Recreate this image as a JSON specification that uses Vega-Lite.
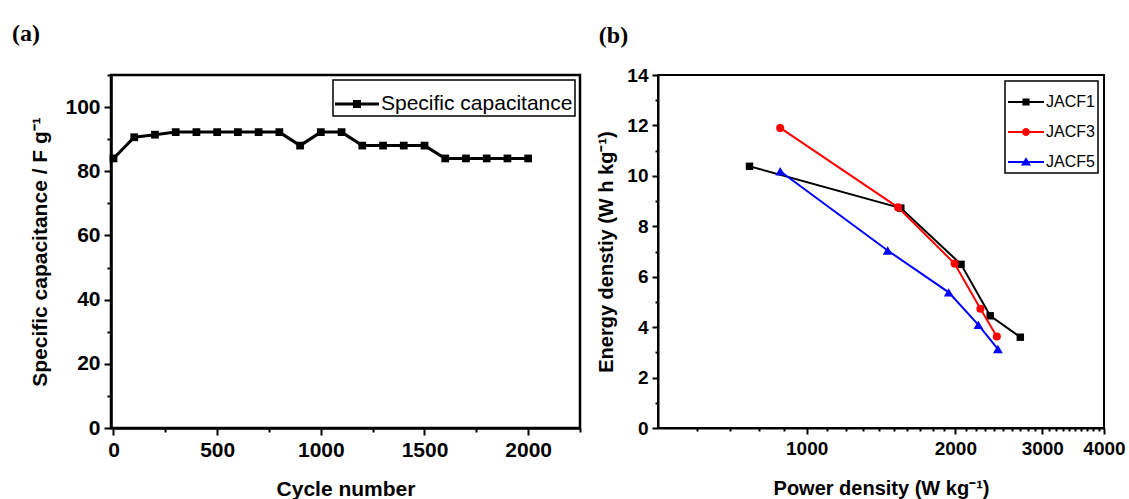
{
  "$schema": "https://vega.github.io/schema/vega-lite/v6.json",
  "background": "white",
  "padding": {"left": 10, "top": 20, "right": 5, "bottom": 0},
  "config": {
    "font": "Liberation Sans",
    "axis": {"domainColor": "black", "domainWidth": 2, "tickColor": "black", "tickWidth": 2, "labelColor": "black", "titleColor": "black", "labelFont": "Liberation Sans", "titleFont": "Liberation Sans", "labelFontWeight": "bold", "titleFontWeight": "bold", "grid": false, "labelOverlap": false, "labelFlush": false},
    "title": {"font": "Liberation Serif", "fontSize": 24, "fontWeight": "bold", "anchor": "start", "frame": "bounds", "color": "black"},
    "legend": {"strokeColor": "black", "strokeWidth": 1.5, "labelFont": "Liberation Sans", "labelColor": "black", "symbolOpacity": 1, "symbolStrokeWidth": 0, "fillColor": "white", "labelLimit": 0}
  },
  "datasets": {
    "cycling": [
      {"cycle": 0, "capacitance": 84, "series": "Specific capacitance"},
      {"cycle": 100, "capacitance": 90.6, "series": "Specific capacitance"},
      {"cycle": 200, "capacitance": 91.4, "series": "Specific capacitance"},
      {"cycle": 300, "capacitance": 92.2, "series": "Specific capacitance"},
      {"cycle": 400, "capacitance": 92.2, "series": "Specific capacitance"},
      {"cycle": 500, "capacitance": 92.2, "series": "Specific capacitance"},
      {"cycle": 600, "capacitance": 92.2, "series": "Specific capacitance"},
      {"cycle": 700, "capacitance": 92.2, "series": "Specific capacitance"},
      {"cycle": 800, "capacitance": 92.2, "series": "Specific capacitance"},
      {"cycle": 900, "capacitance": 88, "series": "Specific capacitance"},
      {"cycle": 1000, "capacitance": 92.2, "series": "Specific capacitance"},
      {"cycle": 1100, "capacitance": 92.2, "series": "Specific capacitance"},
      {"cycle": 1200, "capacitance": 88, "series": "Specific capacitance"},
      {"cycle": 1300, "capacitance": 88, "series": "Specific capacitance"},
      {"cycle": 1400, "capacitance": 88, "series": "Specific capacitance"},
      {"cycle": 1500, "capacitance": 88, "series": "Specific capacitance"},
      {"cycle": 1600, "capacitance": 84, "series": "Specific capacitance"},
      {"cycle": 1700, "capacitance": 84, "series": "Specific capacitance"},
      {"cycle": 1800, "capacitance": 84, "series": "Specific capacitance"},
      {"cycle": 1900, "capacitance": 84, "series": "Specific capacitance"},
      {"cycle": 2000, "capacitance": 84, "series": "Specific capacitance"}
    ],
    "ragone": [
      {"sample": "JACF1", "power": 766, "energy": 10.38},
      {"sample": "JACF1", "power": 1551, "energy": 8.72},
      {"sample": "JACF1", "power": 2054, "energy": 6.49},
      {"sample": "JACF1", "power": 2353, "energy": 4.45},
      {"sample": "JACF1", "power": 2708, "energy": 3.6},
      {"sample": "JACF3", "power": 884, "energy": 11.9},
      {"sample": "JACF3", "power": 1531, "energy": 8.75},
      {"sample": "JACF3", "power": 1993, "energy": 6.52},
      {"sample": "JACF3", "power": 2248, "energy": 4.73},
      {"sample": "JACF3", "power": 2427, "energy": 3.63},
      {"sample": "JACF5", "power": 884, "energy": 10.18},
      {"sample": "JACF5", "power": 1459, "energy": 7.04},
      {"sample": "JACF5", "power": 1939, "energy": 5.38},
      {"sample": "JACF5", "power": 2227, "energy": 4.09},
      {"sample": "JACF5", "power": 2439, "energy": 3.13}
    ]
  },
  "resolve": {"scale": {"x": "independent", "y": "independent", "color": "independent", "shape": "independent"}},
  "spacing": 12,
  "hconcat": [
    {
      "title": {"text": "(a)", "dx": -18, "offset": 18},
      "width": 469,
      "height": 353,
      "view": {"stroke": "black", "strokeWidth": 2.5},
      "data": {"name": "cycling"},
      "encoding": {
        "x": {"field": "cycle", "type": "quantitative", "scale": {"domain": [-12, 2250], "nice": false, "zero": false},
          "axis": {"title": "Cycle number", "values": [0, 250, 500, 750, 1000, 1250, 1500, 1750, 2000, 2250], "format": "d",
            "labelExpr": "datum.value % 500 == 0 ? datum.label : ''",
            "tickSize": {"condition": {"test": "datum.value % 500 == 0", "value": 7}, "value": 4},
            "labelFontSize": 21, "titleFontSize": 21, "labelPadding": 4, "titlePadding": 18, "domainWidth": 2.5}},
        "y": {"field": "capacitance", "type": "quantitative", "scale": {"domain": [0, 110], "nice": false},
          "axis": {"title": "Specific capacitance / F g⁻¹", "values": [0, 10, 20, 30, 40, 50, 60, 70, 80, 90, 100, 110], "format": "d",
            "labelExpr": "datum.value % 20 == 0 && datum.value <= 100 ? datum.label : ''",
            "tickSize": {"condition": {"test": "datum.value % 20 == 0 && datum.value <= 100", "value": 7}, "value": 4},
            "labelFontSize": 21, "titleFontSize": 21, "labelPadding": 4, "titlePadding": 14, "domainWidth": 2.5}}
      },
      "layer": [
        {"mark": {"type": "line", "color": "black", "strokeWidth": 3, "point": {"shape": "square", "size": 60, "filled": true, "color": "black", "opacity": 1}}},
        {"mark": {"type": "point", "filled": true, "opacity": 0},
          "encoding": {
            "color": {"field": "series", "type": "nominal", "scale": {"range": ["black"]},
              "legend": {"title": null, "orient": "top-right", "offset": 5, "symbolSize": 1936, "labelFontSize": 21, "padding": 2, "labelOffset": 2, "symbolOpacity": 1, "labelLimit": 0}},
            "shape": {"field": "series", "type": "nominal", "scale": {"range": ["M-1,-0.07H1V0.07H-1Z M-0.18,-0.18H0.18V0.18H-0.18Z"]}}
          }}
      ]
    },
    {
      "title": {"text": "(b)", "dx": 2, "offset": 18},
      "width": 446,
      "height": 353,
      "view": {"stroke": "black", "strokeWidth": 2},
      "data": {"name": "ragone"},
      "encoding": {
        "x": {"field": "power", "type": "quantitative", "scale": {"type": "log", "domain": [500, 4000], "nice": false},
          "axis": {"title": "Power density (W kg⁻¹)", "values": [600, 700, 800, 900, 1000, 1100, 1200, 1300, 1400, 1500, 1600, 1700, 1800, 1900, 2000, 2100, 2200, 2300, 2400, 2500, 2600, 2700, 2800, 2900, 3000, 3100, 3200, 3300, 3400, 3500, 3600, 3700, 3800, 3900, 4000], "format": "d",
            "labelExpr": "datum.value % 1000 == 0 ? datum.label : ''",
            "tickSize": {"condition": {"test": "datum.value % 1000 == 0", "value": 6}, "value": 3},
            "labelFontSize": 19, "titleFontSize": 20, "labelPadding": 5, "titlePadding": 20}},
        "y": {"field": "energy", "type": "quantitative", "scale": {"domain": [0, 14], "nice": false},
          "axis": {"title": "Energy denstiy (W h kg⁻¹)", "values": [0, 1, 2, 3, 4, 5, 6, 7, 8, 9, 10, 11, 12, 13, 14], "format": "d",
            "labelExpr": "datum.value % 2 == 0 ? datum.label : ''",
            "tickSize": {"condition": {"test": "datum.value % 2 == 0", "value": 6}, "value": 3},
            "labelFontSize": 19, "titleFontSize": 20, "labelPadding": 4, "titlePadding": 10}}
      },
      "layer": [
        {"transform": [{"filter": "datum.sample == 'JACF1'"}],
          "mark": {"type": "line", "color": "black", "strokeWidth": 2, "point": {"shape": "square", "size": 55, "filled": true, "color": "black", "opacity": 1}}},
        {"transform": [{"filter": "datum.sample == 'JACF3'"}],
          "mark": {"type": "line", "color": "#ff0000", "strokeWidth": 2, "point": {"shape": "circle", "size": 65, "filled": true, "color": "#ff0000", "opacity": 1}}},
        {"transform": [{"filter": "datum.sample == 'JACF5'"}],
          "mark": {"type": "line", "color": "#0000ff", "strokeWidth": 2, "point": {"shape": "triangle-up", "size": 95, "filled": true, "color": "#0000ff", "opacity": 1}}},
        {"mark": {"type": "point", "filled": true, "opacity": 0},
          "encoding": {
            "color": {"field": "sample", "type": "nominal", "scale": {"domain": ["JACF1", "JACF3", "JACF5"], "range": ["black", "#ff0000", "#0000ff"]},
              "legend": {"title": null, "orient": "top-right", "offset": 6, "symbolSize": 1296, "labelFontSize": 16, "padding": 3, "labelOffset": 2, "rowPadding": 4, "symbolOpacity": 1}},
            "shape": {"field": "sample", "type": "nominal", "scale": {"domain": ["JACF1", "JACF3", "JACF5"], "range": ["M-1,-0.055H1V0.055H-1Z M-0.2,-0.2H0.2V0.2H-0.2Z", "M-1,-0.055H1V0.055H-1Z M0.22,0A0.22,0.22 0 1,1 -0.22,0A0.22,0.22 0 1,1 0.22,0Z", "M-1,-0.055H1V0.055H-1Z M0,-0.26L0.28,0.2H-0.28Z"]}}
          }}
      ]
    }
  ]
}
